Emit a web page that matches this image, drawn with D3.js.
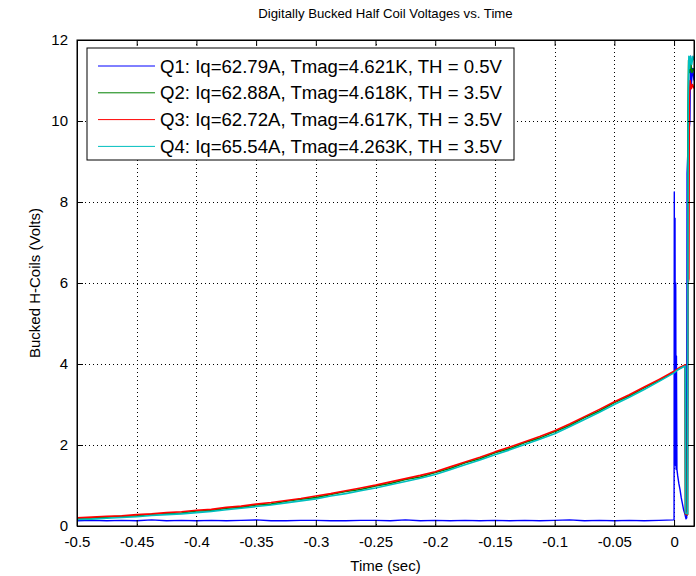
<!DOCTYPE html>
<html>
<head>
<meta charset="utf-8">
<script src="https://cdn.jsdelivr.net/npm/d3@7"></script>
<style>
  body { margin: 0; background: #fff; }
  text { font-family: "Liberation Sans", Arial, sans-serif; fill: #000; }
</style>
</head>
<body>
<div id="chart"></div>
<script>
const W = 696, H = 576;
const margin = { top: 40, right: 2, bottom: 50, left: 77 };
const width = W - margin.left - margin.right,
  height = H - margin.top - margin.bottom;

// x ticks and y ticks
const xTicks = [-0.5, -0.45, -0.4, -0.35, -0.3, -0.25, -0.2, -0.15, -0.1, -0.05, 0];
const xTickLabels = ["-0.5", "-0.45", "-0.4", "-0.35", "-0.3", "-0.25", "-0.2", "-0.15", "-0.1", "-0.05", "0"];
const yTicks = [0, 2, 4, 6, 8, 10, 12];

// time before trigger (shared by all four coils)
const timeCurve = [-0.5, -0.4875, -0.475, -0.4625, -0.45, -0.4375, -0.425, -0.4125, -0.4, -0.3875,
  -0.375, -0.3625, -0.35, -0.3375, -0.325, -0.3125, -0.3, -0.2875, -0.275, -0.2625,
  -0.25, -0.2375, -0.225, -0.2125, -0.2, -0.1875, -0.175, -0.1625, -0.15, -0.1375,
  -0.125, -0.1125, -0.1, -0.0875, -0.075, -0.0625, -0.05, -0.0375, -0.025, -0.0125, 0];

const q1Pre = [0.13, 0.14, 0.13, 0.14, 0.13, 0.15, 0.13, 0.14, 0.13, 0.14,
  0.13, 0.14, 0.15, 0.13, 0.13, 0.14, 0.14, 0.13, 0.13, 0.14,
  0.14, 0.13, 0.15, 0.13, 0.14, 0.13, 0.14, 0.13, 0.14, 0.13,
  0.14, 0.13, 0.14, 0.15, 0.13, 0.14, 0.13, 0.14, 0.13, 0.14, 0.15];
const q2Pre = [0.19, 0.20, 0.22, 0.24, 0.25, 0.29, 0.31, 0.32, 0.37, 0.38,
  0.44, 0.46, 0.52, 0.54, 0.61, 0.66, 0.70, 0.78, 0.85, 0.90,
  0.99, 1.05, 1.15, 1.21, 1.32, 1.42, 1.56, 1.66, 1.81, 1.91,
  2.06, 2.17, 2.33, 2.48, 2.68, 2.84, 3.05, 3.21, 3.41, 3.59, 3.80];
const q3Pre = [0.20, 0.22, 0.24, 0.25, 0.28, 0.30, 0.33, 0.35, 0.39, 0.41,
  0.46, 0.49, 0.54, 0.58, 0.63, 0.68, 0.74, 0.80, 0.87, 0.94,
  1.01, 1.09, 1.17, 1.25, 1.34, 1.46, 1.58, 1.70, 1.83, 1.95,
  2.08, 2.21, 2.35, 2.52, 2.70, 2.88, 3.07, 3.24, 3.43, 3.62, 3.82];
const q4Pre = [0.16, 0.17, 0.19, 0.21, 0.23, 0.26, 0.28, 0.30, 0.33, 0.36,
  0.40, 0.44, 0.48, 0.52, 0.57, 0.62, 0.67, 0.74, 0.80, 0.87,
  0.94, 1.02, 1.10, 1.18, 1.27, 1.39, 1.51, 1.63, 1.76, 1.88,
  2.01, 2.14, 2.28, 2.45, 2.63, 2.81, 3.00, 3.18, 3.37, 3.57, 3.78];

// after trigger
const q1PostT = [0.0002, 0.0005, 0.0008, 0.0011, 0.0014, 0.0017, 0.002, 0.0024, 0.003, 0.004,
  0.005, 0.006, 0.007, 0.008, 0.009, 0.01, 0.0106, 0.0109, 0.012, 0.0133, 0.0138, 0.0145, 0.0155, 0.0167];
const q1PostV = [8.25, 1.6, 7.6, 1.5, 6.0, 1.4, 4.2, 1.4, 1.25, 1.05,
  0.9, 0.7, 0.55, 0.4, 0.3, 0.18, 0.2, 8.7, 9.6, 10.0, 11.6, 10.9, 11.3, 11.0];
const q2PostT = [0.002, 0.004, 0.006, 0.008, 0.0093, 0.0096, 0.0112, 0.0116, 0.0122, 0.013, 0.014, 0.015, 0.0167];
const q2PostV = [3.85, 3.88, 3.91, 3.95, 3.97, 0.3, 0.28, 10.2, 11.5, 11.2, 11.4, 11.2, 11.3];
const q3PostT = [0.002, 0.004, 0.006, 0.008, 0.0093, 0.0096, 0.0112, 0.0118, 0.0124, 0.0128, 0.0135, 0.0145, 0.0155, 0.0167];
const q3PostV = [3.86, 3.9, 3.93, 3.96, 3.98, 0.3, 0.28, 6.0, 6.1, 10.6, 11.0, 10.8, 10.9, 10.8];
const q4PostT = [0.002, 0.004, 0.006, 0.008, 0.0093, 0.0096, 0.0114, 0.0118, 0.0124, 0.013, 0.0138, 0.0148, 0.0158, 0.0167];
const q4PostV = [3.83, 3.87, 3.9, 3.93, 3.95, 0.32, 0.3, 10.4, 11.6, 11.3, 11.6, 11.4, 11.6, 11.5];

const seriesNames = [
  "Q1: Iq=62.79A, Tmag=4.621K, TH = 0.5V",
  "Q2: Iq=62.88A, Tmag=4.618K, TH = 3.5V",
  "Q3: Iq=62.72A, Tmag=4.617K, TH = 3.5V",
  "Q4: Iq=65.54A, Tmag=4.263K, TH = 3.5V"
];
const seriesColors = ["#0000ff", "#008000", "#ff0000", "#00bfbf"];

const toPts = (t, v) => t.map((d, i) => [d, v[i]]);
const series = [
  toPts(timeCurve, q1Pre).concat(toPts(q1PostT, q1PostV)),
  toPts(timeCurve, q2Pre).concat(toPts(q2PostT, q2PostV)),
  toPts(timeCurve, q3Pre).concat(toPts(q3PostT, q3PostV)),
  toPts(timeCurve, q4Pre).concat(toPts(q4PostT, q4PostV))
];

const x = d3.scaleLinear().domain([-0.5, 0.0167]).range([0, width]);
const y = d3.scaleLinear().domain([0, 12]).range([height, 0]);

const svg = d3.select("#chart").append("svg")
  .attr("width", W).attr("height", H);

const g = svg.append("g")
  .attr("transform", "translate(" + margin.left + "," + margin.top + ")");

g.append("rect").attr("width", width).attr("height", height).attr("fill", "#fff");

// grid
g.append("g").selectAll("line").data(xTicks).enter().append("line")
  .attr("x1", d => Math.round(x(d)) + 0.5).attr("x2", d => Math.round(x(d)) + 0.5)
  .attr("y1", 0).attr("y2", height)
  .attr("stroke", "#000").attr("stroke-width", 1).attr("stroke-dasharray", "1,3");
g.append("g").selectAll("line").data(yTicks).enter().append("line")
  .attr("y1", d => Math.round(y(d)) + 0.5).attr("y2", d => Math.round(y(d)) + 0.5)
  .attr("x1", 0).attr("x2", width)
  .attr("stroke", "#000").attr("stroke-width", 1).attr("stroke-dasharray", "1,3");

// lines
svg.append("clipPath").attr("id", "clip")
  .append("rect").attr("width", width).attr("height", height);

const line = d3.line().x(d => x(d[0])).y(d => y(d[1]));
g.append("g").attr("clip-path", "url(#clip)")
  .selectAll("path").data(series).enter().append("path")
  .attr("d", line)
  .attr("fill", "none")
  .attr("stroke", (d, i) => seriesColors[i])
  .attr("stroke-width", (d, i) => i === 0 ? 1.4 : 1.6)
  .attr("stroke-linejoin", "round");

// axes (MATLAB style: inward ticks, full box)
const tickLen = 6;
const xAxis = g.append("g").attr("transform", "translate(0," + height + ")")
  .call(d3.axisBottom(x).tickValues(xTicks).tickFormat((d, i) => xTickLabels[i])
    .tickSizeInner(-tickLen).tickSizeOuter(0).tickPadding(10));
const xAxisTop = g.append("g")
  .call(d3.axisTop(x).tickValues(xTicks).tickFormat("").tickSizeInner(-tickLen).tickSizeOuter(0));
const yAxis = g.append("g")
  .call(d3.axisLeft(y).tickValues(yTicks).tickSizeInner(-tickLen).tickSizeOuter(0).tickPadding(9));
const yAxisRight = g.append("g").attr("transform", "translate(" + width + ",0)")
  .call(d3.axisRight(y).tickValues(yTicks).tickFormat("").tickSizeInner(-tickLen).tickSizeOuter(0));

[xAxis, xAxisTop, yAxis, yAxisRight].forEach(a => {
  a.select(".domain").attr("stroke", "#000");
  a.selectAll(".tick line").attr("stroke", "#000");
  a.selectAll("text").attr("font-size", 15).attr("font-family", "Liberation Sans, Arial, sans-serif");
});

g.append("rect").attr("width", width).attr("height", height)
  .attr("fill", "none").attr("stroke", "#000");

// legend
const leg = svg.append("g").attr("transform", "translate(87,48)");
leg.append("rect").attr("width", 427).attr("height", 112)
  .attr("fill", "#fff").attr("stroke", "#000");
seriesNames.forEach((name, i) => {
  const ly = 18 + i * 26.8;
  leg.append("line").attr("x1", 11).attr("x2", 68).attr("y1", ly).attr("y2", ly)
    .attr("stroke", seriesColors[i]).attr("stroke-width", 1);
  leg.append("text").attr("x", 73).attr("y", ly).attr("dy", "0.35em")
    .attr("font-size", 18.6).text(name);
});

// title and labels
svg.append("text").attr("x", margin.left + width / 2).attr("y", 18)
  .attr("text-anchor", "middle").attr("font-size", 13.2)
  .text("Digitally Bucked Half Coil Voltages vs. Time");
svg.append("text").attr("x", margin.left + width / 2).attr("y", 571)
  .attr("text-anchor", "middle").attr("font-size", 15)
  .text("Time (sec)");
svg.append("text")
  .attr("transform", "translate(40," + (margin.top + height / 2) + ") rotate(-90)")
  .attr("text-anchor", "middle").attr("font-size", 15)
  .text("Bucked H-Coils (Volts)");
</script>
</body>
</html>
